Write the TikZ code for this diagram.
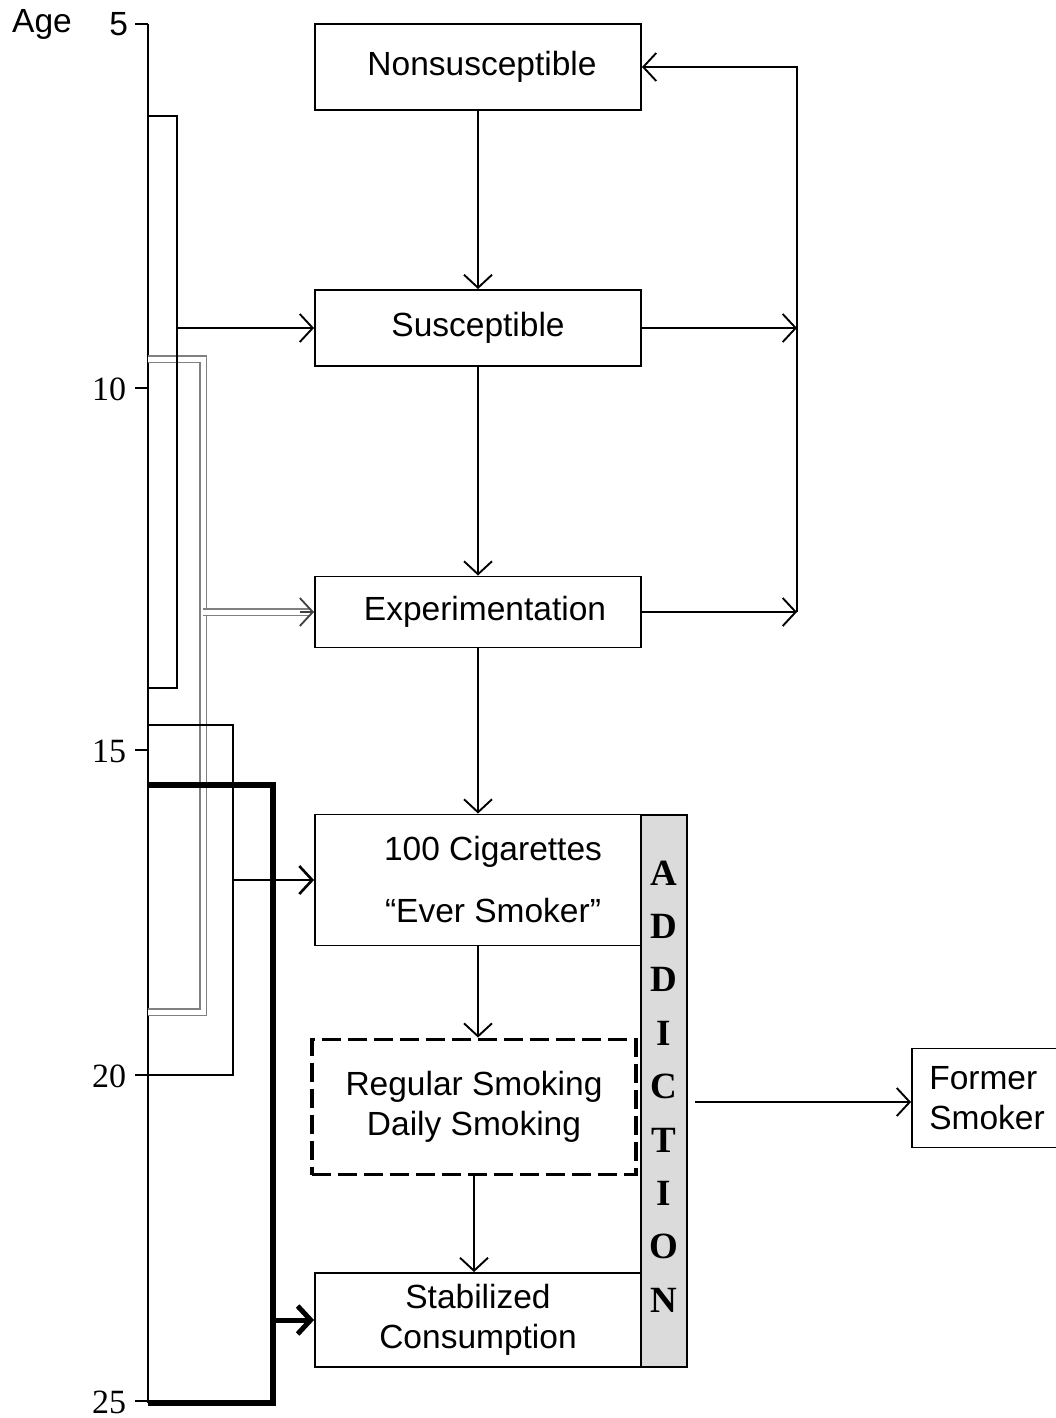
\documentclass[tikz,border=0pt]{standalone}
\usepackage{fontspec}
\setmainfont{Liberation Sans}
\newfontfamily\numfont{Liberation Serif}
\usetikzlibrary{arrows.meta,positioning}
\tikzset{
  textsize/.style={font=\fontsize{33.5}{40}\selectfont},
  stage/.style={draw, textsize, minimum width=326, align=center},
  dashedstage/.style={stage, minimum width=324, dash pattern=on 19pt off 7pt, line width=3.8pt},
  flow/.style={-{Straight Barb[length=13pt,width=28pt]}},
  ticklabel/.style={left, inner sep=8pt, yshift=-1pt, font=\numfont\fontsize{34}{40}\selectfont},
  letter/.style={inner sep=0pt, font=\numfont\bfseries\fontsize{37}{37}\selectfont},
  gray pair/.style={gray, double=white, double distance=5pt, line width=1.8pt}
}
\begin{document}
\begin{tikzpicture}[x=1pt,y=-1pt,line width=1.9pt]
\useasboundingbox (0,0) rectangle (1055,1418);
% age axis
\node[textsize] (age) at (42,24) {Age};
\coordinate (top) at (148,24);
\coordinate (bottom) at (148,1403);
\draw (top) -- (bottom);
\draw (top) -- ++(-13,0) node[left, inner sep=6pt, textsize] (tick5) {5};
\foreach \a/\y in {10/388,15/750,20/1075,25/1401}
  \draw (148,\y) -- (135,\y) node[ticklabel] (tick\a) {\a};

% stages
\node[stage, minimum height=86] (nonsus) at (478,67) {\hspace*{8pt}Nonsusceptible};
\node[stage, minimum height=76] (sus) at (478,328) {Susceptible};
\node[stage, minimum height=71] (exper) at (478,612) {\hspace*{14pt}Experimentation};
\node[stage, minimum height=131] (ever) at (478,880) {\hspace*{30pt}100 Cigarettes\\[22pt]\hspace*{30pt}“Ever Smoker”};
\node[dashedstage, minimum height=135] (regular) at (474,1107) {Regular Smoking\\Daily Smoking};
\node[stage, minimum height=94] (stab) at (478,1320) {Stabilized\\Consumption};
\node[draw, fill=gray!28, minimum width=46, minimum height=552] (addict) at (664,1091) {};
\foreach \l [count=\i] in {A,D,D,I,C,T,I,O,N}
  \node[letter] (let\i) at (664,{873+53.4*(\i-1)}) {\l};
\node[stage, minimum width=150, minimum height=99, align=left] (former) at (987,1098) {Former\\Smoker};

\draw[flow] (nonsus) -- (sus);
\draw[flow] (sus) -- (exper);
\draw[flow] (exper) -- (ever);
\draw[flow] (ever.south) -- (ever.south |- regular.north);
\draw[flow] (regular.south) -- (regular.south |- stab.north);

% way back
\coordinate (loop) at (797,64);
\draw[flow] (sus.east) -- (sus.east -| loop);
\draw[flow] (exper.east) -- (exper.east -| loop);
\draw[flow] (exper.east -| loop) -- (nonsus.east -| loop) -- (nonsus.east);

\coordinate (quit) at (695,1102);
\draw[flow] (quit) -- (quit -| former.west);

% age brackets
\coordinate (middle) at (203,359);
\draw[gray pair] (148,359) -| (203,1012) -- (148,1012);
\draw[gray pair, shorten >=4pt] (middle |- exper.west) -- (exper.west);
\draw[flow, gray!50!black, line width=1.8pt] (exper.west) ++(-14,0) -- (exper.west);

\coordinate (early) at (177,116);
\draw (148,116) -| (177,688) -- (148,688);
\draw[flow] (early |- sus.west) -- (sus.west);

\coordinate (teen) at (233,725);
\draw[line width=2.6pt] (148,725) -| (233,1075) -- (148,1075);
\draw[flow, line width=2.6pt] (teen |- ever.west) -- (ever.west);

\coordinate (late) at (273,785);
\draw[line width=6pt] (148,785) -| (273,1403) -- (148,1403);
\draw[flow, line width=5pt] (late |- stab.west) -- (stab.west);
\end{tikzpicture}
\end{document}
